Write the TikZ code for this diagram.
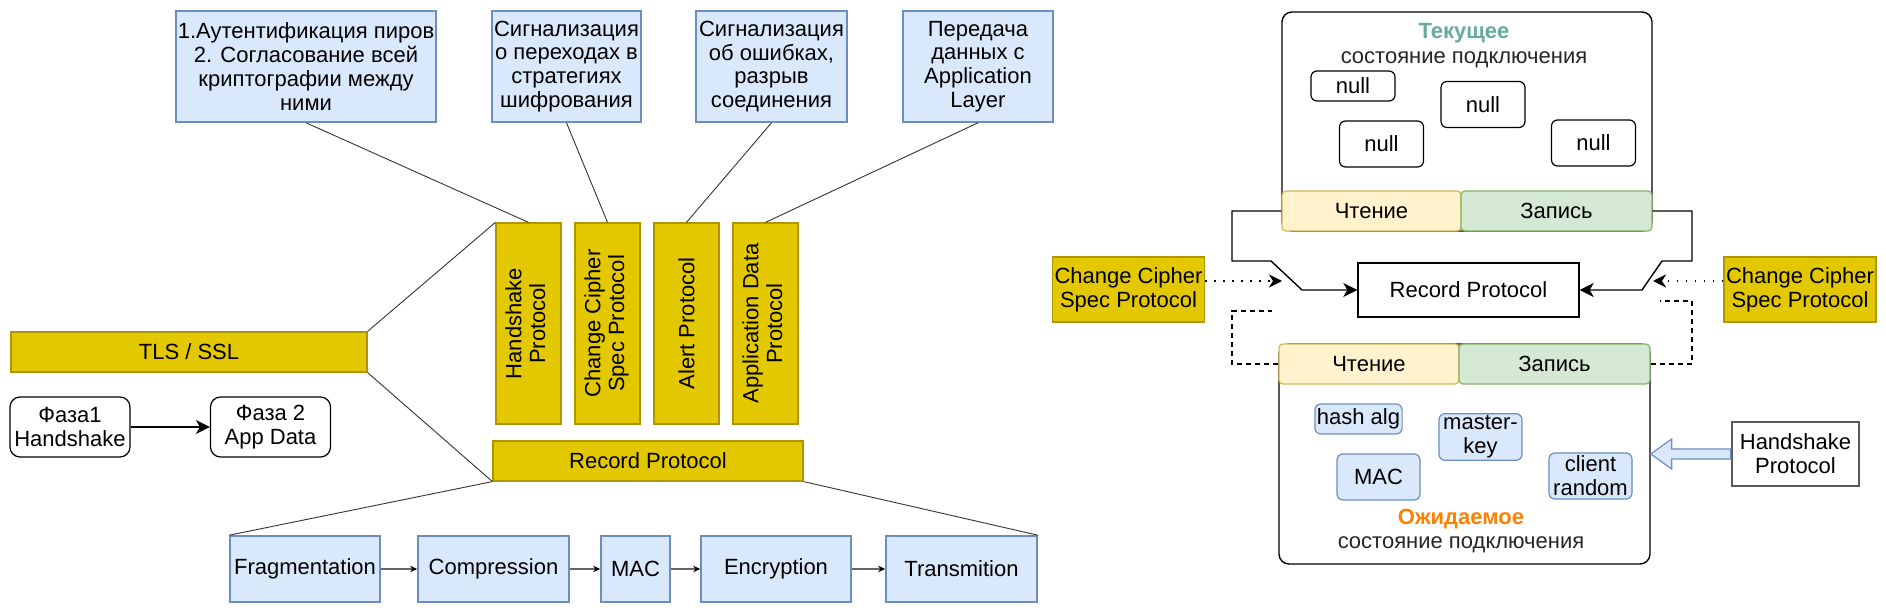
\documentclass[tikz,border=0pt]{standalone}
\usepackage{fontspec}
\setmainfont{Liberation Sans}
\usetikzlibrary{arrows.meta,calc}

\definecolor{ylwfill}{HTML}{E3C800}
\definecolor{ylwdraw}{HTML}{B09500}
\definecolor{bluefill}{HTML}{DAE8FC}
\definecolor{bluedraw}{HTML}{6C8EBF}
\definecolor{rdfill}{HTML}{FFF2CC}
\definecolor{rddraw}{HTML}{D6B656}
\definecolor{wrfill}{HTML}{D5E8D4}
\definecolor{wrdraw}{HTML}{82B366}
\definecolor{tealtxt}{HTML}{67AB9F}
\definecolor{orangetxt}{HTML}{FF8000}

\newcommand{\diafont}{\fontsize{11}{11.9}\selectfont}

\begin{document}
\begin{tikzpicture}[x=0.5pt,y=-0.5pt,
    font=\diafont,
    every node/.style={align=center,inner sep=1pt},
    ylw/.style={draw=ylwdraw,fill=ylwfill,line width=0.6pt},
    note/.style={draw=bluedraw,fill=bluefill,line width=0.8pt},
    item/.style={draw=bluedraw,fill=bluefill,line width=0.6pt,rounded corners=3pt,
      minimum width=41.5pt,minimum height=23pt},
    nullbox/.style={draw,fill=white,line width=0.6pt,rounded corners=3pt,
      minimum width=42pt,minimum height=23pt},
    phase/.style={draw,fill=white,line width=0.6pt,rounded corners=5pt,
      minimum width=60pt,minimum height=30pt},
    state/.style={draw,fill=white,line width=0.7pt,rounded corners=5pt},
    rdcell/.style={draw=rddraw,fill=rdfill,line width=0.6pt,rounded corners=2pt,minimum height=20pt},
    wrcell/.style={draw=wrdraw,fill=wrfill,line width=0.6pt,rounded corners=2pt,minimum height=20pt},
    title/.style={font=\diafont\bfseries},
    subtitle/.style={text=black!85},
    link/.style={draw=black!80,line width=0.45pt},
    flow/.style={draw=black!60,line width=0.7pt,-{Stealth[black,length=3.5pt,width=3.2pt]}},
    arr/.style={line width=0.7pt,-{Stealth[length=7pt,width=7pt,inset=2pt]}},
    wire/.style={line width=0.7pt},
    dots/.style={line width=0.9pt,dash pattern=on 0.9pt off 3.6pt,
      -{Stealth[length=6.5pt,width=6.5pt,inset=2pt]}},
    dsh/.style={line width=0.55pt,dash pattern=on 2.5pt off 2pt},
    hollow/.style={draw=bluedraw,fill=bluefill,line width=0.6pt,line join=miter}
  ]
  \useasboundingbox (0,0) rectangle (1886,613);

  \node[note,minimum width=125pt,minimum height=55.5pt] (note1) at (306,66.5)
    {1.Аутентификация пиров\\2. Согласование всей\\криптографии между\\ними};
  \node[note,minimum width=74.5pt,minimum height=55.5pt] (note2) at (566.5,66.5)
    {Сигнализация\\о переходах в\\стратегиях\\шифрования};
  \node[note,minimum width=75.5pt,minimum height=55.5pt] (note3) at (771.5,66.5)
    {Сигнализация\\об ошибках,\\разрыв\\соединения};
  \node[note,minimum width=75pt,minimum height=55.5pt] (note4) at (978,66.5)
    {Передача\\данных с\\Application\\Layer};

  \node[ylw,minimum width=32.5pt,minimum height=100.5pt] (hs) at (528.5,323.5)
    {\rotatebox{90}{\begin{tabular}{@{}c@{}}Handshake\\Protocol\end{tabular}}};
  \node[ylw,minimum width=32.5pt,minimum height=100.5pt] (ccs) at (607.5,323.5)
    {\rotatebox{90}{\begin{tabular}{@{}c@{}}Change Cipher\\Spec Protocol\end{tabular}}};
  \node[ylw,minimum width=32.5pt,minimum height=100.5pt] (alert) at (686.5,323.5)
    {\rotatebox{90}{Alert Protocol}};
  \node[ylw,minimum width=32.5pt,minimum height=100.5pt] (appd) at (765.5,323.5)
    {\rotatebox{90}{\begin{tabular}{@{}c@{}}Application Data\\Protocol\end{tabular}}};

  \node[ylw,minimum width=178pt,minimum height=20pt] (tls) at (189,352) {TLS / SSL};
  \node[ylw,minimum width=155pt,minimum height=20pt] (rec) at (648,461) {Record Protocol};

  \node[phase] (ph1) at (70,427) {Фаза1\\Handshake};
  \node[phase] (ph2) at (270.5,427) {Фаза 2\\App Data};

  \node[note,minimum width=75pt,minimum height=33pt] (frag) at (305,569) {Fragmentation};
  \node[note,minimum width=75.5pt,minimum height=33pt] (comp) at (493.5,569) {Compression};
  \node[note,minimum width=34.5pt,minimum height=33pt] (mac) at (635.5,569) {MAC};
  \node[note,minimum width=75pt,minimum height=33pt] (enc) at (776,569) {Encryption};
  \node[note,minimum width=75.5pt,minimum height=33pt] (trans) at (961.5,569) {Transmition};

  \draw[link] (note1.south) -- (hs.north);
  \draw[link] (note2.south) -- (ccs.north);
  \draw[link] (note3.south) -- (alert.north);
  \draw[link] (note4.south) -- (appd.north);
  \draw[link] (tls.north east) -- (hs.north west);
  \draw[link] (tls.south east) -- (rec.south west);
  \draw[link] (rec.south west) -- (frag.north west);
  \draw[link] (rec.south east) -- (trans.north east);
  \draw[arr] (ph1) -- (ph2);
  \foreach \a/\b in {frag/comp,comp/mac,mac/enc,enc/trans}
    \draw[flow] (\a) -- (\b);

  % current state
  \node[state,minimum width=185pt,minimum height=109.5pt] (cur) at (1467,121.5) {};
  \node[rdcell,minimum width=89.5pt] (curr) at (1371.5,211) {Чтение};
  \node[wrcell,minimum width=95.5pt] (curw) at (1556.5,211) {Запись};
  \node[title,text=tealtxt] (curt) at (1464,33) {Текущее};
  \node[subtitle] (curs) at (1464,60) {состояние подключения};
  \node[nullbox,minimum height=15pt] (null1) at (1353,86) {null};
  \node[nullbox] (null2) at (1483,104.5) {null};
  \node[nullbox] (null3) at (1381.5,144) {null};
  \node[nullbox] (null4) at (1593.5,143) {null};

  \node[draw,line width=0.7pt,minimum width=110.5pt,minimum height=27pt] (rec2) at (1468.5,290) {Record Protocol};
  \node[ylw,minimum width=75.5pt,minimum height=32.5pt] (ccsl) at (1128.5,289.5) {Change Cipher\\Spec Protocol};
  \node[ylw,minimum width=75pt,minimum height=32.5pt] (ccsr) at (1800,289.5) {Change Cipher\\Spec Protocol};

  % pending state
  \node[state,minimum width=185.5pt,minimum height=110pt] (pend) at (1464.5,454) {};
  \node[rdcell,minimum width=90pt] (pendr) at (1369,364) {Чтение};
  \node[wrcell,minimum width=95.5pt] (pendw) at (1554.5,364) {Запись};
  \node[item,minimum height=15pt] (hash) at (1358.5,419) {hash alg};
  \node[item] (mkey) at (1480.5,437) {master-\\key};
  \node[item] (mac2) at (1378.5,477) {MAC};
  \node[item] (crand) at (1590.5,476) {client\\random};
  \node[title,text=orangetxt] (pendt) at (1461,519) {Ожидаемое};
  \node[subtitle] (pends) at (1461,545) {состояние подключения};

  \node[draw=black!65,fill=white,line width=1.2pt,minimum width=63.5pt,minimum height=32pt] (hsr) at (1795.5,454) {Handshake\\Protocol};

  \coordinate (swl1) at (1232,261);
  \coordinate (swl2) at (1271,261);
  \coordinate (swl3) at (1302,290);
  \draw[wire,arr] (curr.west) -| (swl1) -- (swl2) -- (swl3) -- (rec2.west);
  \coordinate (swr1) at (1692,261);
  \coordinate (swr2) at (1662,261);
  \coordinate (swr3) at (1642,290);
  \draw[wire,arr] (curw.east) -| (swr1) -- (swr2) -- (swr3) -- (rec2.east);

  \coordinate (dotl) at (1282,281);
  \coordinate (dotr) at (1653,281);
  \draw[dots] (ccsl.east |- dotl) -- (dotl);
  \draw[dots] (ccsr.west |- dotr) -- (dotr);

  \coordinate (dshl1) at (1232,311);
  \coordinate (dshl2) at (1272,311);
  \draw[dsh] (pendr.west) -| (dshl1) -- (dshl2);
  \coordinate (dshr1) at (1692,301);
  \coordinate (dshr2) at (1660,301);
  \draw[dsh] (pendw.east) -| (dshr1) -- (dshr2);

  \draw[hollow] ($(hsr.west)+(0,-5)$) -- ($(pend.east)+(21,-5)$) -- ($(pend.east)+(21,-15)$)
    -- (pend.east) -- ($(pend.east)+(21,15)$) -- ($(pend.east)+(21,5)$) -- ($(hsr.west)+(0,5)$) -- cycle;
\end{tikzpicture}
\end{document}
